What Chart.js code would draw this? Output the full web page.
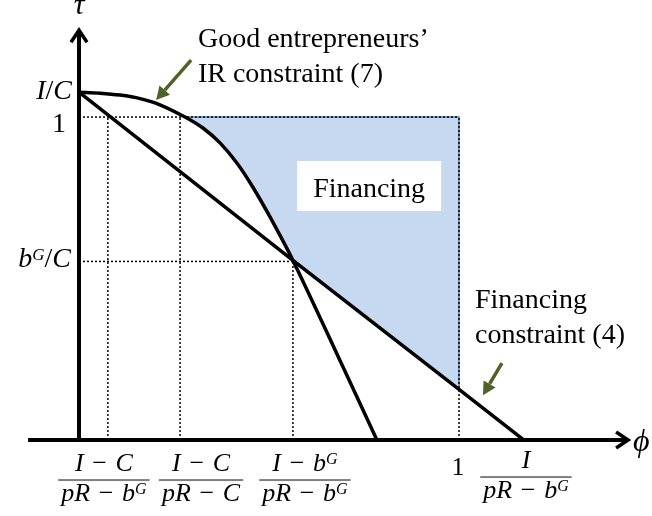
<!DOCTYPE html>
<html>
<head>
<meta charset="utf-8">
<script src="https://cdn.jsdelivr.net/npm/chart.js@4.4.0/dist/chart.umd.min.js"></script>
<style>
    html, body { margin: 0; padding: 0; background: #fff; }
    canvas { display: block; }
</style>
</head>
<body>
<canvas id="myChart" width="652" height="516"></canvas>
<script>
// phi ticks: (I-C)/(pR-bG), (I-C)/(pR-C), (I-bG)/(pR-bG), 1, I/(pR-bG)
var phiTicks = [0.076, 0.266, 0.563, 1, 1.171];
var phiLabels = [['I−C', 'pR−b^G'], ['I−C', 'pR−C'], ['I−b^G', 'pR−b^G'], ['1'], ['I', 'pR−b^G']];

// tau ticks: I/C, 1, bG/C
var tauTicks = [1.077, 1, 0.553];
var tauLabels = ['I/C', '1', 'b^G/C'];

// financing constraint (4)
var finPhi = [0, 0.563, 1, 1.171];
var finTau = [1.077, 0.556, 0.157, 0];

// good entrepreneurs' IR constraint (7)
var irPhi = [0, 0.055, 0.108, 0.161, 0.213, 0.279, 0.326, 0.371, 0.416, 0.458, 0.503, 0.563, 0.674, 0.784];
var irTau = [1.077, 1.074, 1.068, 1.057, 1.038, 1.0, 0.966, 0.920, 0.857, 0.782, 0.690, 0.556, 0.279, 0];

// axis extents
var phiAxis = [-0.134, 1.445];
var tauAxis = [0, 1.269];

var MATH = '"Liberation Serif", "Times New Roman", serif';
var TEXT = '28px "Liberation Serif", "Times New Roman", serif';

function pts(xs, ys) {
    return xs.map(function (x, i) { return { x: x, y: ys[i] }; });
}

function seg(x0, y0, x1, y1) {
    return [{ x: x0, y: y0 }, { x: x1, y: y1 }];
}

// dotted guides from the axes to the ticks
var guides = [
    seg(0, tauTicks[1], phiTicks[3], tauTicks[1]),
    seg(0, tauTicks[2], phiTicks[2], tauTicks[2]),
    seg(phiTicks[0], 0, phiTicks[0], tauTicks[1]),
    seg(phiTicks[1], 0, phiTicks[1], tauTicks[1]),
    seg(phiTicks[2], 0, phiTicks[2], tauTicks[2]),
    seg(phiTicks[3], 0, phiTicks[3], tauTicks[1])
];

// financing region: above both constraints, tau <= 1, phi <= 1
var region = [{ x: irPhi[5], y: 1 }, { x: 1, y: 1 }, { x: finPhi[2], y: finTau[2] }, { x: finPhi[1], y: finTau[1] }];
for (var i = 10; i > 5; i--) {
    region.push({ x: irPhi[i], y: irTau[i] });
}

function parseMath(s) {
    var parts = [];
    for (var i = 0; i < s.length; i++) {
        var ch = s[i];
        if (ch === '^') {
            parts.push([s[++i], 's']);
        } else if (ch === '−') {
            parts.push(['\u2004\u2212\u2004', 'r']);
        } else if (/[A-Za-z]/.test(ch)) {
            parts.push([ch, 'i']);
        } else {
            parts.push([ch, 'r']);
        }
    }
    return parts;
}

function fontFor(kind, size) {
    if (kind === 'i') return 'italic ' + size + 'px ' + MATH;
    if (kind === 's') return 'italic ' + Math.round(size * 0.6) + 'px ' + MATH;
    return size + 'px ' + MATH;
}

function mathWidth(ctx, parts, size) {
    var w = 0;
    parts.forEach(function (p) {
        ctx.font = fontFor(p[1], size);
        w += ctx.measureText(p[0]).width;
    });
    return w;
}

function drawMath(ctx, parts, x, y, size) {
    parts.forEach(function (p) {
        ctx.font = fontFor(p[1], size);
        ctx.fillText(p[0], x, p[1] === 's' ? y - size * 0.27 : y);
        x += ctx.measureText(p[0]).width;
    });
}

function drawArrow(ctx, x0, y0, x1, y1) {
    var a = Math.atan2(y1 - y0, x1 - x0);
    var len = 13, half = 7;
    var bx = x1 - len * Math.cos(a), by = y1 - len * Math.sin(a);
    ctx.beginPath();
    ctx.moveTo(x0, y0);
    ctx.lineTo(bx, by);
    ctx.stroke();
    ctx.beginPath();
    ctx.moveTo(x1, y1);
    ctx.lineTo(bx + half * Math.sin(a), by - half * Math.cos(a));
    ctx.lineTo(bx - half * Math.sin(a), by + half * Math.cos(a));
    ctx.closePath();
    ctx.fill();
}

var diagramText = {
    id: 'diagramText',
    afterDatasetsDraw: function (chart) {
        var ctx = chart.ctx;
        var xs = chart.scales.x, ys = chart.scales.y;
        var px = function (v) { return xs.getPixelForValue(v); };
        var py = function (v) { return ys.getPixelForValue(v); };
        var x0 = px(0), y0 = py(0);

        ctx.save();

        // axis arrowheads
        ctx.strokeStyle = '#000';
        ctx.lineWidth = 3.5;
        ctx.lineJoin = 'miter';
        var tx = px(phiAxis[1]);
        ctx.beginPath();
        ctx.moveTo(tx - 12, y0 - 8);
        ctx.lineTo(tx, y0);
        ctx.lineTo(tx - 12, y0 + 8);
        ctx.stroke();
        var ty = py(tauAxis[1]);
        ctx.beginPath();
        ctx.moveTo(x0 - 8, ty + 12);
        ctx.lineTo(x0, ty);
        ctx.lineTo(x0 + 8, ty + 12);
        ctx.stroke();

        ctx.fillStyle = '#000';
        ctx.textBaseline = 'alphabetic';
        ctx.textAlign = 'left';

        // axis names
        ctx.font = 'italic 32px ' + MATH;
        ctx.fillText('\u03d5', tx + 5, y0 + 11);
        ctx.font = 'italic 30px ' + MATH;
        ctx.textAlign = 'center';
        ctx.fillText('\u03c4', x0, 14);
        ctx.textAlign = 'left';

        // tau tick labels
        var tauShift = [[-7, 7], [-13, 15], [-8, 6]];
        tauLabels.forEach(function (lab, i) {
            var parts = parseMath(lab);
            var w = mathWidth(ctx, parts, 28);
            drawMath(ctx, parts, x0 + tauShift[i][0] - w, py(tauTicks[i]) + tauShift[i][1], 28);
        });

        // phi tick labels (fractions)
        var phiShift = [-4, 21, 12, -1, 2];
        var barDrop = [40, 40, 40, 35, 37];
        phiLabels.forEach(function (lab, i) {
            var cx = px(phiTicks[i]) + phiShift[i];
            var barY = y0 + barDrop[i];
            if (lab.length === 1) {
                var one = parseMath(lab[0]);
                drawMath(ctx, one, cx - mathWidth(ctx, one, 26) / 2, barY, 26);
                return;
            }
            var num = parseMath(lab[0]), den = parseMath(lab[1]);
            var wn = mathWidth(ctx, num, 26), wd = mathWidth(ctx, den, 26);
            var bw = Math.max(wn, wd) + 6;
            drawMath(ctx, num, cx - wn / 2, barY - 9, 26);
            drawMath(ctx, den, cx - wd / 2, barY + 21, 26);
            ctx.fillStyle = '#7f7f7f';
            ctx.fillRect(cx - bw / 2, barY - 1, bw, 2);
            ctx.fillStyle = '#000';
        });

        // "Financing" box inside the region
        ctx.font = TEXT;
        var bx = px(0.574), by = py(0.864);
        ctx.fillStyle = '#fff';
        ctx.fillRect(bx, by, 144, 50);
        ctx.fillStyle = '#000';
        ctx.textAlign = 'center';
        ctx.fillText('Financing', bx + 72, by + 36);
        ctx.textAlign = 'left';

        // constraint notes
        ctx.fillText('Good entrepreneurs\u2019', px(0.313), py(1.217));
        ctx.fillText('IR constraint (7)', px(0.313), py(1.108));
        ctx.fillText('Financing', px(1.042), py(0.409));
        ctx.fillText('constraint (4)', px(1.042), py(0.300));

        ctx.strokeStyle = '#4f6228';
        ctx.fillStyle = '#4f6228';
        ctx.lineWidth = 3.5;
        drawArrow(ctx, px(0.295), py(1.176), px(0.203), py(1.053));
        drawArrow(ctx, px(1.113), py(0.238), px(1.063), py(0.139));

        ctx.restore();
    }
};

var datasets = [];

// axes
datasets.push({
    data: seg(phiAxis[0], 0, phiAxis[1], 0),
    borderColor: '#000', borderWidth: 4, order: 1
});
datasets.push({
    data: seg(0, tauAxis[0], 0, tauAxis[1]),
    borderColor: '#000', borderWidth: 4, order: 1
});

// constraints
datasets.push({
    data: pts(finPhi, finTau),
    borderColor: '#000', borderWidth: 3.5, order: 2
});
datasets.push({
    data: pts(irPhi, irTau),
    borderColor: '#000', borderWidth: 3.5, order: 2,
    tension: 0.3
});

guides.forEach(function (g) {
    datasets.push({
        data: g,
        borderColor: '#000', borderWidth: 1.5, borderDash: [2, 2], order: 3
    });
});

datasets.push({
    data: region,
    borderColor: '#4f81bd', borderWidth: 1.5,
    backgroundColor: '#c6d9f1', fill: 'shape', order: 4
});

var ctx = document.getElementById('myChart').getContext('2d');
new Chart(ctx, {
    type: 'scatter',
    data: { datasets: datasets },
    options: {
        responsive: false,
        animation: false,
        showLine: true,
        layout: { padding: { left: 3, right: 3, top: 4, bottom: 11.35 } },
        elements: { point: { radius: 0, hoverRadius: 0 } },
        scales: {
            x: { type: 'linear', min: -0.2, max: 1.5, display: false },
            y: { type: 'linear', min: -0.2, max: 1.35, display: false }
        },
        plugins: {
            legend: { display: false },
            tooltip: { enabled: false }
        }
    },
    plugins: [diagramText]
});
</script>
</body>
</html>
